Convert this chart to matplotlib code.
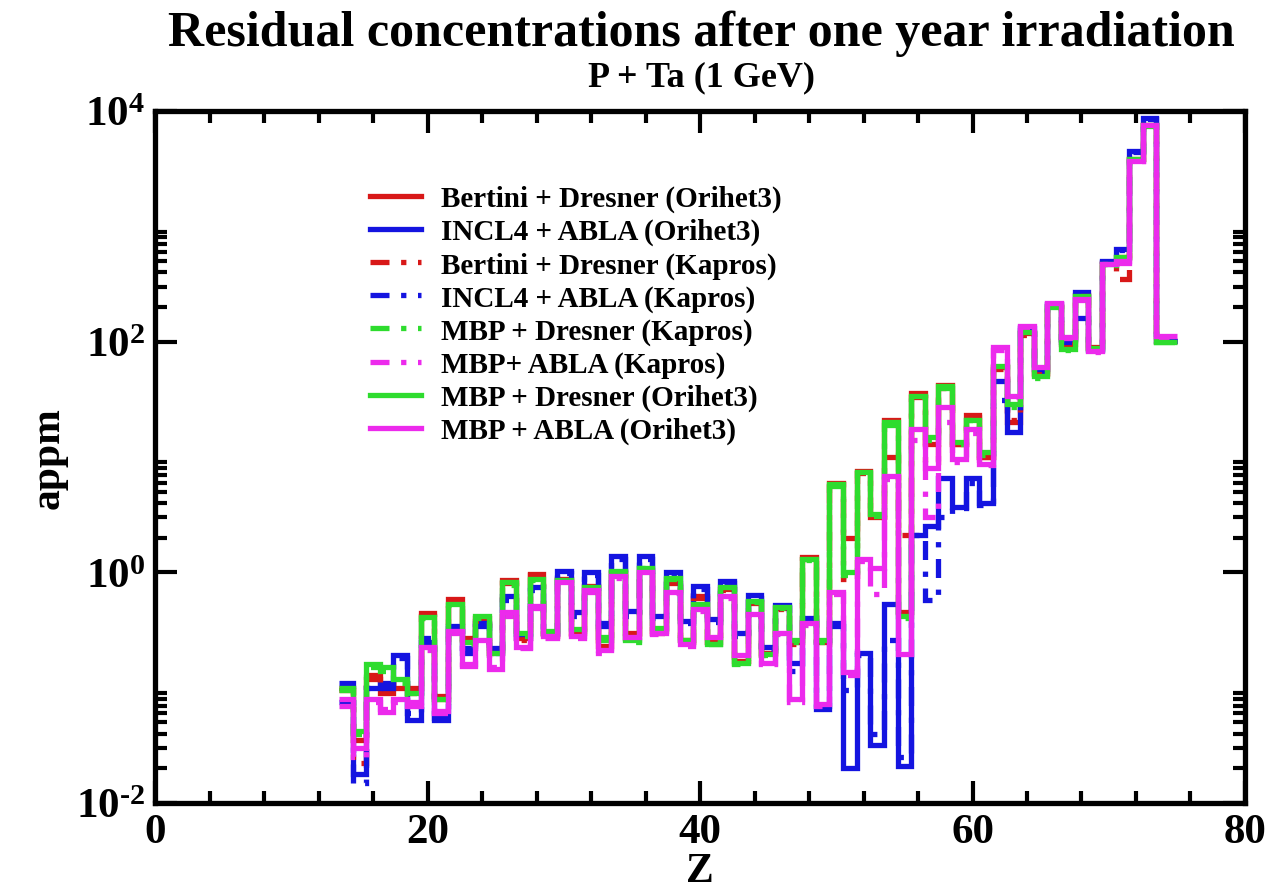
import numpy as np
import matplotlib
matplotlib.use("Agg")
import matplotlib.pyplot as plt
from matplotlib.lines import Line2D
from matplotlib.ticker import FixedLocator, FixedFormatter

plt.rcParams['font.family'] = ['Liberation Serif', 'DejaVu Serif']
plt.rcParams['font.weight'] = 'bold'
plt.rcParams['mathtext.fontset'] = 'custom'
plt.rcParams['mathtext.rm'] = 'Liberation Serif:bold'
plt.rcParams['mathtext.bf'] = 'Liberation Serif:bold'
plt.rcParams['mathtext.it'] = 'Liberation Serif:bold'

# Atomic number of the residual nuclides
Z = np.arange(14, 75)

labels = [
    "Bertini + Dresner (Orihet3)",
    "INCL4 + ABLA (Orihet3)",
    "Bertini + Dresner (Kapros)",
    "INCL4 + ABLA (Kapros)",
    "MBP + Dresner (Kapros)",
    "MBP+ ABLA (Kapros)",
    "MBP + Dresner (Orihet3)",
    "MBP + ABLA (Orihet3)",
]

# Concentrations in appm, Z = 14 ... 74
bertini_dresner_orihet3 = [
    0.10, 0.035, 0.12, 0.09, 0.10, 0.10, 0.44, 0.085, 0.59, 0.27,
    0.40, 0.21, 0.86, 0.27, 0.97, 0.29, 0.88, 0.30, 0.76, 0.23,
    1.00, 0.30, 1.05, 0.31, 0.80, 0.26, 0.62, 0.25, 0.72, 0.17,
    0.55, 0.20, 0.49, 0.25, 1.35, 0.25, 6.0, 2.0, 7.6, 3.0,
    21, 0.45, 36, 13, 42, 13, 23, 10, 60, 20,
    118, 53, 205, 95, 255, 90, 480, 545, 3850, 7600,
    102]
incl4_abla_orihet3 = [
    0.075, 0.018, 0.10, 0.11, 0.19, 0.052, 0.25, 0.052, 0.34, 0.22,
    0.36, 0.22, 0.62, 0.29, 0.74, 0.30, 1.03, 0.45, 1.00, 0.36,
    1.39, 0.46, 1.39, 0.42, 1.00, 0.38, 0.76, 0.39, 0.84, 0.30,
    0.64, 0.225, 0.52, 0.165, 0.40, 0.065, 0.36, 0.02, 0.20, 0.032,
    0.53, 0.021, 2.1, 2.5, 6.6, 3.7, 6.6, 4.0, 46, 16.6,
    130, 58, 210, 105, 270, 85, 500, 630, 4500, 8700,
    102]
bertini_dresner_kapros = [
    0.095, 0.022, 0.13, 0.11, 0.11, 0.09, 0.42, 0.08, 0.57, 0.26,
    0.38, 0.20, 0.80, 0.26, 0.95, 0.28, 0.86, 0.29, 0.75, 0.22,
    0.98, 0.29, 1.03, 0.30, 0.74, 0.25, 0.60, 0.25, 0.70, 0.17,
    0.54, 0.19, 0.48, 0.24, 1.30, 0.24, 5.8, 0.875, 7.3, 3.0,
    10, 2.1, 33, 9.0, 40, 13, 22, 10, 58, 21,
    115, 52, 200, 92, 250, 88, 470, 350, 3800, 7550,
    101]
incl4_abla_kapros = [
    0.11, 0.015, 0.10, 0.10, 0.18, 0.06, 0.27, 0.055, 0.33, 0.20,
    0.34, 0.20, 0.58, 0.27, 0.70, 0.29, 0.98, 0.42, 0.95, 0.34,
    1.30, 0.42, 1.30, 0.40, 0.95, 0.36, 0.72, 0.37, 0.80, 0.28,
    0.60, 0.21, 0.50, 0.14, 0.38, 0.07, 0.34, 0.095, 0.19, 0.04,
    0.26, 0.025, 2.1, 0.57, 3.0, 3.6, 6.0, 3.8, 31, 25,
    125, 56, 205, 100, 160, 86, 490, 620, 4400, 8600,
    101]
mbp_dresner_kapros = [
    0.095, 0.04, 0.15, 0.14, 0.11, 0.085, 0.40, 0.075, 0.52, 0.24,
    0.40, 0.19, 0.78, 0.28, 0.85, 0.30, 0.84, 0.31, 0.72, 0.26,
    1.00, 0.25, 1.08, 0.32, 0.88, 0.25, 0.52, 0.24, 0.72, 0.16,
    0.55, 0.19, 0.49, 0.25, 1.28, 0.25, 5.6, 0.95, 7.2, 3.1,
    19, 0.40, 33, 14, 40, 13, 21, 10.5, 60, 27,
    118, 48, 195, 84, 245, 87, 460, 530, 3750, 7450,
    99]
mbp_abla_kapros = [
    0.07, 0.025, 0.075, 0.065, 0.075, 0.07, 0.21, 0.06, 0.30, 0.16,
    0.25, 0.15, 0.42, 0.22, 0.49, 0.27, 0.80, 0.27, 0.68, 0.20,
    0.90, 0.27, 0.97, 0.29, 0.66, 0.23, 0.46, 0.27, 0.60, 0.19,
    0.42, 0.16, 0.29, 0.075, 0.35, 0.07, 0.65, 0.13, 1.25, 0.65,
    6.5, 0.45, 14, 3.0, 20, 9.0, 16, 8.5, 85, 33,
    135, 58, 210, 108, 230, 82, 470, 480, 3650, 7400,
    110]
mbp_dresner_orihet3 = [
    0.10, 0.042, 0.16, 0.15, 0.12, 0.09, 0.41, 0.079, 0.53, 0.25,
    0.42, 0.20, 0.82, 0.30, 0.88, 0.31, 0.86, 0.32, 0.74, 0.275,
    1.03, 0.26, 1.10, 0.33, 0.90, 0.26, 0.53, 0.24, 0.74, 0.165,
    0.56, 0.195, 0.50, 0.26, 1.31, 0.26, 5.8, 1.0, 7.4, 3.2,
    20, 0.42, 34, 15, 41, 13.6, 21, 11, 62, 29,
    121, 50, 200, 86, 250, 88, 470, 540, 3800, 7500,
    100]
mbp_abla_orihet3 = [
    0.079, 0.030, 0.079, 0.062, 0.079, 0.075, 0.225, 0.063, 0.31, 0.155,
    0.26, 0.145, 0.45, 0.225, 0.51, 0.28, 0.82, 0.28, 0.70, 0.21,
    0.93, 0.275, 1.00, 0.30, 0.68, 0.24, 0.48, 0.275, 0.62, 0.19,
    0.435, 0.165, 0.30, 0.079, 0.36, 0.072, 0.68, 0.137, 1.31, 1.1,
    6.8, 0.195, 17.4, 8.0, 27, 9.6, 17.4, 8.7, 89, 34,
    137, 60, 215, 110, 235, 83, 470, 500, 3700, 7500,
    112]

series = [bertini_dresner_orihet3, incl4_abla_orihet3, bertini_dresner_kapros,
          incl4_abla_kapros, mbp_dresner_kapros, mbp_abla_kapros,
          mbp_dresner_orihet3, mbp_abla_orihet3]

RED, BLUE, GREEN, MAGENTA = '#d81818', '#1414e0', '#2edc2e', '#ec2aec'
colors = [RED, BLUE, RED, BLUE, GREEN, MAGENTA, GREEN, MAGENTA]
dashdot = (0, (3.6, 2.2, 1.0, 2.2))
styles = ['-', '-', dashdot, dashdot, dashdot, dashdot, '-', '-']

# bin edges: one unit per element, the last bin reaching Z = 75
edges = np.append(Z - 0.5, 75.0)

fig = plt.figure(figsize=(12.76, 8.95), dpi=100)
ax = fig.add_axes([0.1215, 0.1017, 0.8542, 0.7732])

lw = 3.8
for vals, c, ls in zip(series, colors, styles):
    ax.stairs(vals, edges, baseline=None, color=c, linestyle=ls,
              linewidth=lw, fill=False)

ax.set_yscale('log')
ax.set_xlim(0, 80)
ax.set_ylim(1e-2, 1e4)

# x ticks: labelled every 20, minor every 4
ax.xaxis.set_major_locator(FixedLocator([0, 20, 40, 60, 80]))
ax.xaxis.set_minor_locator(FixedLocator([v for v in range(0, 81, 4) if v % 20]))
ax.xaxis.set_major_formatter(FixedFormatter(['0', '20', '40', '60', '80']))

# y ticks: labelled every two decades, minor ticks 2..9 above each label
ymaj = [1e-2, 1e0, 1e2, 1e4]
ax.yaxis.set_major_locator(FixedLocator(ymaj))
ax.yaxis.set_major_formatter(FixedFormatter(
    [r'$\mathbf{10^{\text{-}2}}$', r'$\mathbf{10^{0}}$',
     r'$\mathbf{10^{2}}$', r'$\mathbf{10^{4}}$']))
ax.yaxis.set_minor_locator(FixedLocator([m * d for d in (1e-2, 1e0, 1e2) for m in range(2, 10)]))
ax.yaxis.set_minor_formatter(FixedFormatter([]))

ax.tick_params(which='both', direction='in', top=True, right=True, width=3.0)
ax.tick_params(which='major', length=16, labelsize=31, pad=7)
ax.tick_params(which='minor', length=8.5)
for s in ax.spines.values():
    s.set_linewidth(3.8)

ax.set_xlabel('Z', fontsize=30, fontweight='bold', labelpad=1)
ax.set_ylabel('appm', fontsize=30, fontweight='bold', labelpad=6)

fig.text(0.55, 0.962, 'Residual concentrations after one year irradiation',
         ha='center', va='center', fontsize=36, fontweight='bold')
fig.text(0.55, 0.913, 'P + Ta (1 GeV)', ha='center', va='center',
         fontsize=26, fontweight='bold')

handles = [Line2D([], [], color=c, linestyle=ls, linewidth=lw)
           for c, ls in zip(colors, styles)]
ax.legend(handles, labels, loc='upper left', bbox_to_anchor=(0.197, 0.893),
          frameon=False, fontsize=21, handlelength=1.75, handletextpad=0.7,
          labelspacing=0.2, borderaxespad=0, borderpad=0)

fig.savefig('out.png', dpi=100)
